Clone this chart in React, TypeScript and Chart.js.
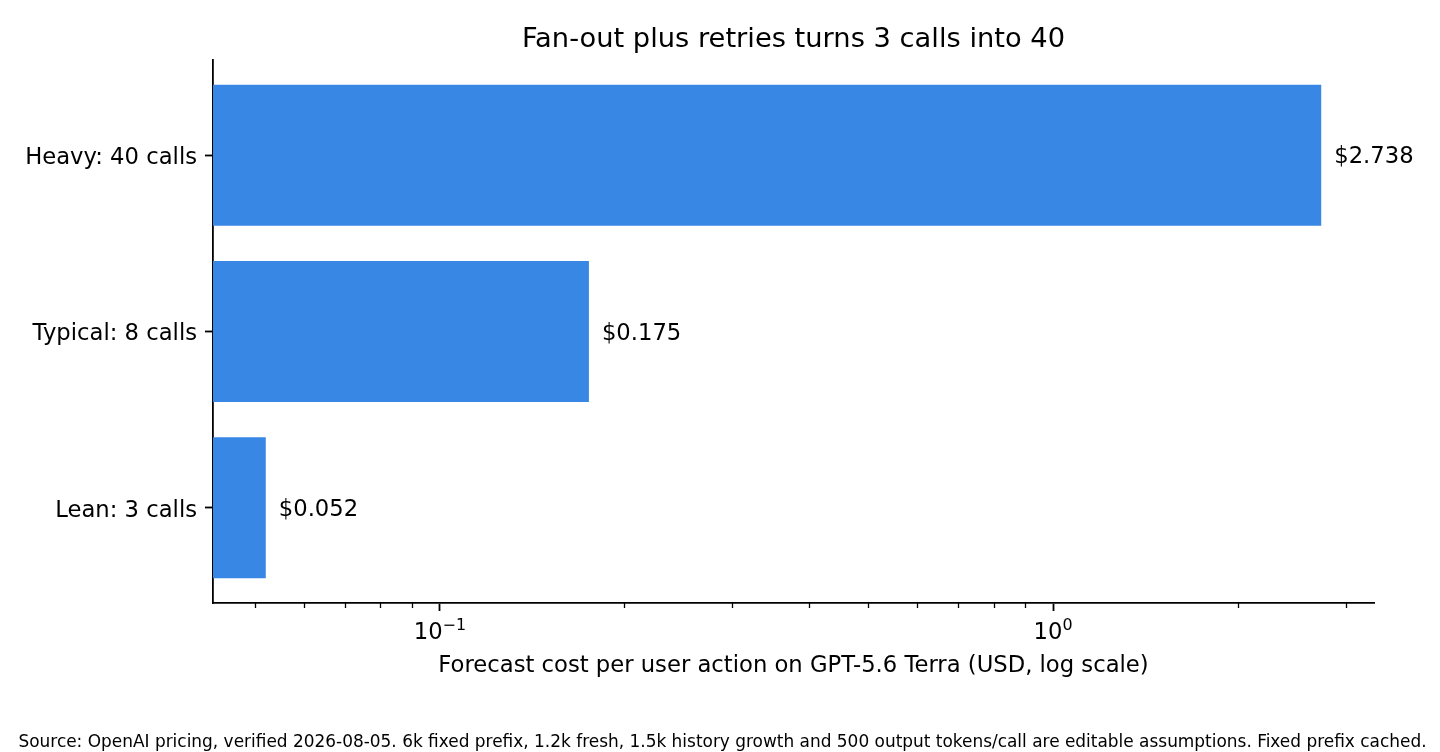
import { useEffect, useRef } from 'react'
import { Chart, registerables } from 'chart.js'

Chart.register(...registerables)

const FONT = '"DejaVu Sans", "Liberation Sans", sans-serif'
const BAR_COLOR = '#3987e5'

const scenarioLabels = ['Heavy: 40 calls', 'Typical: 8 calls', 'Lean: 3 calls']
const costValues = [2.738, 0.175, 0.052]
const majorTickValues = [0.1, 1]
const majorTickExponents = ['−1', '0']
const minorTickValues = [0.05, 0.06, 0.07, 0.08, 0.09, 0.2, 0.3, 0.4, 0.5, 0.6, 0.7, 0.8, 0.9, 2, 3]

const chartTitle = 'Fan-out plus retries turns 3 calls into 40'
const xAxisTitle = 'Forecast cost per user action on GPT-5.6 Terra (USD, log scale)'
const footerNote =
  'Source: OpenAI pricing, verified 2026-08-05. 6k fixed prefix, 1.2k fresh, 1.5k history growth and 500 output tokens/call are editable assumptions. Fixed prefix cached.'

// matplotlib-style 5% margin in log space
const logMin = Math.log10(Math.min(...costValues))
const logMax = Math.log10(Math.max(...costValues))
const logPad = (logMax - logMin) * 0.05
const xMin = Math.pow(10, logMin - logPad)
const xMax = Math.pow(10, logMax + logPad)

const decorPlugin = {
  id: 'decor',
  afterDraw(chart: Chart) {
    const { ctx, chartArea, width } = chart
    const xScale = chart.scales.x
    const meta = chart.getDatasetMeta(0)
    ctx.save()

    // minor ticks (shorter than major)
    ctx.strokeStyle = '#000'
    ctx.lineWidth = 1.3
    minorTickValues.forEach((v) => {
      const px = Math.round(xScale.getPixelForValue(v)) + 0.5
      ctx.beginPath()
      ctx.moveTo(px, chartArea.bottom)
      ctx.lineTo(px, chartArea.bottom + 5)
      ctx.stroke()
    })

    ctx.fillStyle = '#000'
    ctx.textBaseline = 'alphabetic'

    // major tick labels: 10 with superscript exponent
    majorTickValues.forEach((v, i) => {
      const px = xScale.getPixelForValue(v)
      const baseY = chartArea.bottom + 36
      ctx.font = `22.7px ${FONT}`
      const wBase = ctx.measureText('10').width
      ctx.font = `15.9px ${FONT}`
      const wExp = ctx.measureText(majorTickExponents[i]).width
      const startX = px - (wBase + wExp) / 2
      ctx.textAlign = 'left'
      ctx.font = `22.7px ${FONT}`
      ctx.fillText('10', startX, baseY)
      ctx.font = `15.9px ${FONT}`
      ctx.fillText(majorTickExponents[i], startX + wBase, baseY - 9)
    })

    // value labels at bar ends
    ctx.font = `22.7px ${FONT}`
    ctx.textAlign = 'left'
    meta.data.forEach((bar: any, i: number) => {
      ctx.fillText(`$${costValues[i].toFixed(3)}`, bar.x + 13, bar.y + 8)
    })

    const cx = (chartArea.left + chartArea.right) / 2
    ctx.textAlign = 'center'
    ctx.font = `27.3px ${FONT}`
    ctx.fillText(chartTitle, cx, 47)

    ctx.font = `22.7px ${FONT}`
    ctx.fillText(xAxisTitle, cx, 672)

    ctx.font = `16.95px ${FONT}`
    ctx.fillText(footerNote, width / 2 + 2.5, 747)
    ctx.restore()
  },
}

export default function App() {
  const canvasRef = useRef<HTMLCanvasElement>(null)
  const chartRef = useRef<Chart | null>(null)

  useEffect(() => {
    document.body.style.margin = '0'
    if (!canvasRef.current) return
    const ctx = canvasRef.current.getContext('2d')
    if (!ctx) return

    chartRef.current = new Chart(ctx, {
      type: 'bar',
      data: {
        labels: scenarioLabels,
        datasets: [
          {
            data: costValues,
            backgroundColor: BAR_COLOR,
            borderWidth: 0,
            categoryPercentage: 1,
            barPercentage: 0.8,
          },
        ],
      },
      options: {
        indexAxis: 'y',
        responsive: true,
        maintainAspectRatio: false,
        animation: false,
        layout: { padding: { top: 60, right: 66, left: 0, bottom: 0 } },
        plugins: {
          legend: { display: false },
          tooltip: { enabled: false },
        },
        scales: {
          x: {
            type: 'logarithmic',
            min: xMin,
            max: xMax,
            bounds: 'data',
            afterBuildTicks(scale: any) {
              scale.ticks = majorTickValues.map((value) => ({ value, major: true }))
            },
            afterFit(scale: any) {
              scale.height = 149
            },
            ticks: {
              autoSkip: false,
              maxRotation: 0,
              minRotation: 0,
              callback() {
                return ''
              },
            },
            grid: {
              drawOnChartArea: false,
              drawTicks: true,
              tickLength: 8,
              tickColor: '#000',
              tickWidth: 1.8,
            },
            border: { display: true, color: '#000', width: 1.8 },
          },
          y: {
            type: 'category',
            afterBuildTicks(scale: any) {
              // matplotlib bar margins: -0.54 .. 2.54
              scale._startValue = -0.54
              scale._valueRange = 3.08
            },
            afterFit(scale: any) {
              scale.width = 213
            },
            ticks: {
              padding: 8,
              labelOffset: 3,
              color: '#000',
              font: { family: FONT, size: 22.7 },
            },
            grid: {
              offset: false,
              drawOnChartArea: false,
              drawTicks: true,
              tickLength: 8,
              tickColor: '#000',
              tickWidth: 1.8,
            },
            border: { display: true, color: '#000', width: 1.8 },
          },
        },
      },
      plugins: [decorPlugin],
    })

    return () => {
      if (chartRef.current) {
        chartRef.current.destroy()
        chartRef.current = null
      }
    }
  }, [])

  return (
    <div style={{ position: 'fixed', left: 0, top: 0, width: 1440, height: 752, background: '#fff' }}>
      <canvas ref={canvasRef} />
    </div>
  )
}
